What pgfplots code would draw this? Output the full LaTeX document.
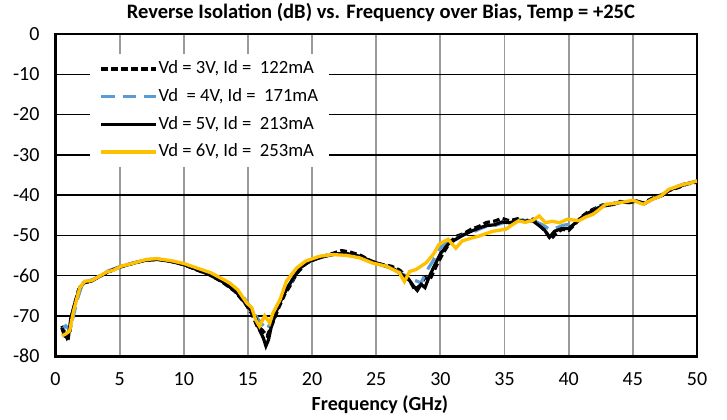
\documentclass[border=0pt]{standalone}
\usepackage{fontspec}
\setmainfont{Carlito}
\usepackage{pgfplots}
\pgfplotsset{compat=1.18}
\definecolor{serblue}{HTML}{5B9BD5}
\definecolor{seryel}{HTML}{FFC000}
\definecolor{gridgray}{HTML}{9A9A9A}

\begin{document}
\begin{tikzpicture}
\begin{axis}[
  scale only axis,
  width=481.1pt, height=241.5pt,
  xmin=0, xmax=50, ymin=-80, ymax=0,
  xtick={0,5,...,50}, ytick={-80,-70,...,0},
  major tick length=0pt,
  tick style={draw=none},
  /pgf/number format/assume math mode=true,
  ticklabel style={font=\fontsize{15}{18}\selectfont},
  xticklabel style={yshift=-9pt},
  yticklabel style={xshift=-8.5pt},
  xmajorgrids, ymajorgrids,
  x grid style={gridgray, line width=1.4pt},
  y grid style={black, line width=1.1pt},
  axis line style={black, line width=2.2pt},
  axis on top=false,
  title={Reverse Isolation (dB) vs. Frequency over Bias, Temp = +25C},
  title style={font=\fontsize{15.4}{18}\selectfont\bfseries, at={(axis description cs:0.5,1)}, anchor=base, yshift=6pt, xshift=3.5pt},
  xlabel={Frequency (GHz)},
  xlabel style={font=\fontsize{15}{18}\selectfont\bfseries, at={(axis description cs:0.5,0)}, anchor=base, yshift=-40.7pt, xshift=2.8pt},
  legend style={at={(axis description cs:0.054,0.938)}, anchor=north west, draw=none, fill=white,
    font=\fontsize{14}{17}\selectfont, row sep=4.8pt, inner xsep=7pt, inner ysep=3pt,
    nodes={inner sep=1pt, text height=10.5pt, text depth=3.5pt}},
  legend cell align=left,
  legend image code/.code={\draw[#1] (0pt,0pt) -- (40.7pt,0pt);},
]
\coordinate (bl) at (rel axis cs:0,0);

\addplot[black, line width=2.4pt, dash pattern=on 5pt off 2.5pt] coordinates {
(0.5,-72.5) (0.7,-74) (0.9,-75.5) (1.1,-74.5) (1.3,-70) (1.5,-67) (1.8,-63.5) (2.2,-61.8) (2.7,-61.5) (3.2,-60.6) (4.0,-59.3) (5.0,-57.9) (6.0,-57.0) (7.0,-56.2) (8.0,-56.0) (9.0,-56.5) (10.0,-57.3) (11.0,-58.6) (12.0,-59.8) (13.0,-61.6) (14.0,-64.0) (14.8,-67) (15.3,-69.5) (15.7,-72.5) (16.1,-73.5) (16.5,-75) (16.9,-72) (17.4,-68) (17.9,-64.5) (18.3,-62.5) (18.8,-59.5) (19.5,-57) (20.5,-55.6) (21.5,-54.6) (22.3,-53.8) (23.0,-54.2) (23.8,-55) (24.6,-56.4) (25.4,-57.2) (26.2,-57.7) (26.8,-58.6) (27.3,-60) (27.7,-61.8) (28.0,-63.5) (28.4,-62.5) (28.8,-60.5) (29.2,-60.9) (29.7,-57.5) (30.2,-54.5) (30.8,-51.5) (31.3,-50.2) (31.8,-49.6) (32.4,-48.5) (33.0,-47.8) (33.6,-46.8) (34.2,-46.5) (34.8,-45.8) (35.4,-46.4) (36.0,-45.9) (36.6,-46.4) (37.2,-46.0) (37.7,-47.5) (38.2,-49.0) (38.6,-51) (39.0,-49.6) (39.5,-48.5) (40.0,-48.8) (40.5,-47.2) (41.0,-45.4) (41.5,-44.2) (42.0,-43.4) (42.6,-42.5) (43.3,-42.3) (44.0,-41.6) (44.6,-41.8) (45.2,-41.4) (45.8,-42.0) (46.5,-40.8) (47.2,-40.0) (47.8,-38.9) (48.5,-38.2) (49.2,-37.3) (50,-36.8)
};
\addlegendentry{Vd = 3V, Id = \ 122mA}

\addplot[serblue, line width=2.4pt, dash pattern=on 10pt off 6pt] coordinates {
(0.5,-73.5) (0.8,-72.5) (1.1,-73.5) (1.4,-70) (1.7,-66) (2.0,-63) (2.4,-61.5) (3.0,-60.9) (4.0,-59.0) (5.0,-57.8) (6.0,-56.9) (7.0,-56.1) (8.0,-55.9) (9.0,-56.4) (10.0,-57.2) (11.0,-58.3) (12.0,-59.4) (13.0,-61.0) (14.0,-63.2) (14.8,-66.0) (15.3,-68.4) (15.8,-70.9) (16.2,-72.5) (16.5,-73.5) (16.9,-70.6) (17.4,-67.2) (17.9,-63.5) (18.4,-61.5) (19.0,-58.2) (19.8,-56.4) (20.8,-55.3) (21.8,-54.7) (22.7,-54.6) (23.6,-55.2) (24.5,-56.4) (25.4,-57.4) (26.3,-58.2) (27.0,-59.6) (27.6,-60.6) (28.0,-61.2) (28.5,-61.8) (28.9,-59.0) (29.4,-56.5) (29.9,-53.5) (30.5,-51.5) (31.1,-51.2) (31.7,-50.0) (32.4,-49.4) (33.0,-48.5) (33.7,-47.6) (34.3,-47.5) (35.0,-46.8) (35.6,-46.6) (36.2,-46.2) (36.8,-46.5) (37.4,-46.6) (37.9,-47.3) (38.5,-48.5) (39.0,-48.2) (39.6,-47.5) (40.2,-47.2) (40.8,-46.2) (41.4,-45.0) (42.0,-43.6) (42.6,-42.7) (43.3,-42.5) (44.0,-41.8) (44.7,-41.8) (45.3,-41.5) (45.9,-42.2) (46.5,-41.0) (47.2,-40.2) (47.8,-38.8) (48.5,-37.8) (49.2,-37.0) (50,-36.5)
};
\addlegendentry{Vd \ = 4V, Id = \ 171mA}

\addplot[black, line width=2.4pt] coordinates {
(0.5,-73.0) (0.7,-75.0) (1.0,-75.5) (1.2,-70.5) (1.5,-67.0) (1.9,-63.0) (2.3,-61.6) (2.8,-61.4) (3.4,-60.3) (4.0,-59.2) (5.0,-57.9) (6.0,-57.0) (7.0,-56.2) (8.0,-56.0) (9.0,-56.5) (10.0,-57.3) (11.0,-58.5) (12.0,-59.8) (13.0,-61.5) (14.0,-63.8) (14.7,-66.5) (15.2,-68.5) (15.6,-70.5) (15.9,-73.5) (16.2,-75.5) (16.4,-77.5) (16.6,-76.0) (16.8,-73.0) (17.2,-69.0) (17.6,-66.0) (18.0,-63.5) (18.5,-60.8) (19.1,-58.0) (19.9,-56.3) (20.9,-55.3) (21.9,-54.6) (22.8,-54.6) (23.7,-55.2) (24.6,-56.4) (25.5,-57.4) (26.4,-58.4) (27.0,-59.8) (27.5,-60.8) (27.9,-62.6) (28.2,-63.7) (28.5,-62.2) (28.8,-63.0) (29.1,-60.5) (29.5,-57.8) (30.0,-54.6) (30.6,-52.2) (31.2,-51.0) (31.8,-49.9) (32.4,-49.0) (33.0,-48.2) (33.6,-47.6) (34.2,-47.4) (34.8,-46.7) (35.4,-46.9) (36.0,-46.3) (36.6,-46.5) (37.2,-46.4) (37.7,-47.6) (38.1,-48.6) (38.5,-50.5) (38.9,-49.0) (39.4,-48.4) (40.0,-48.3) (40.5,-47.0) (41.0,-45.6) (41.5,-44.5) (42.1,-43.5) (42.7,-42.7) (43.4,-42.4) (44.1,-41.7) (44.7,-41.9) (45.3,-41.5) (45.9,-42.1) (46.6,-40.9) (47.3,-40.1) (47.9,-38.7) (48.6,-37.9) (49.3,-37.1) (50,-36.6)
};
\addlegendentry{Vd = 5V, Id = \ 213mA}

\addplot[seryel, line width=2.5pt] coordinates {
(0.5,-75) (0.8,-74.5) (1.1,-73.8) (1.4,-69) (1.6,-66.5) (1.9,-63) (2.3,-61.4) (2.8,-61.3) (3.3,-60.4) (4.0,-59.1) (4.5,-58.7) (5.1,-57.7) (6.1,-56.9) (7.1,-56) (7.9,-55.8) (9,-56.3) (10,-57) (11,-58.1) (12.1,-59.3) (13.1,-61) (13.6,-61.9) (14.2,-63.5) (14.9,-66.8) (15.3,-68) (15.6,-71) (15.9,-72.6) (16.3,-70) (16.7,-71.8) (16.95,-69.3) (17.5,-66) (18,-61.4) (18.8,-58.1) (19.5,-56.4) (20.6,-55.2) (21.6,-54.8) (22.7,-55) (23.7,-55.6) (24.7,-56.9) (25.8,-57.7) (26.3,-58.5) (26.8,-59.3) (27.2,-61.5) (27.6,-59) (28.1,-58.5) (28.9,-56.8) (29.5,-54.5) (29.9,-52.2) (30.6,-51) (31.2,-53.2) (31.7,-51.4) (32.3,-50.8) (33.0,-50.2) (34.1,-49) (35.1,-48.5) (35.6,-47.4) (36.1,-46.4) (36.6,-46.8) (37.2,-46.3) (37.7,-45.2) (38.2,-46.9) (38.7,-46.5) (39.3,-46.9) (39.9,-46) (40.8,-46.4) (41.3,-45.5) (41.9,-44.8) (42.9,-42.3) (44,-41.9) (45,-41.3) (45.8,-42.3) (46.5,-41.1) (47.2,-40.2) (47.8,-38.6) (48.9,-37.4) (49.5,-37) (50,-36.5)
};
\addlegendentry{Vd = 6V, Id = \ 253mA}
\end{axis}
\pgfresetboundingbox
\path ([shift={(-41.6pt,-47.25pt)}]bl) rectangle ([shift={(503.6pt,267pt)}]bl);
\end{tikzpicture}
\end{document}
